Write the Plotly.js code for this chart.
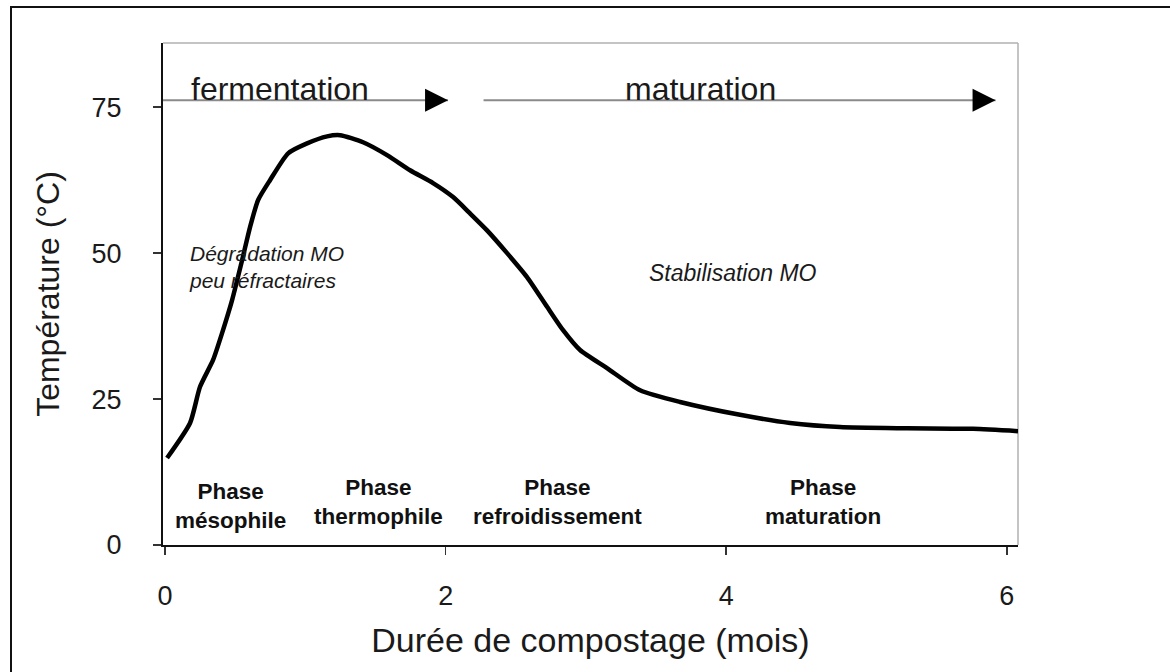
<!DOCTYPE html>
<html>
<head>
<meta charset="utf-8">
<script src="https://cdn.plot.ly/plotly-3.0.1.min.js"></script>
<style>
html,body{margin:0;padding:0;background:#fff;}
#wrap{position:relative;width:1170px;height:672px;overflow:hidden;}
#chart{position:absolute;left:0;top:0;width:1170px;height:672px;}
#frame{position:absolute;left:10px;top:6px;width:1200px;height:700px;border-left:2px solid #111;border-top:2px solid #111;pointer-events:none;}
</style>
</head>
<body>
<div id="wrap"><div id="chart"></div><div id="frame"></div></div>
<script>
// Temperature curve (months, °C)
var months = [0.014, 0.178, 0.249, 0.342, 0.406, 0.478, 0.549, 0.606, 0.663, 0.748, 0.877, 1.012, 1.155, 1.247, 1.411, 1.582, 1.746, 1.910, 2.053, 2.174, 2.295, 2.438, 2.580, 2.723, 2.837, 2.958, 3.150, 3.386, 3.671, 4.098, 4.455, 4.811, 5.289, 5.759, 6.08];
var temperature = [14.9, 20.9, 27.1, 31.7, 36.3, 42.0, 48.8, 54.5, 59.1, 62.5, 67.1, 68.8, 70.0, 70.2, 69.0, 66.8, 64.2, 62.0, 59.6, 56.8, 53.9, 50.0, 45.9, 40.8, 36.8, 33.4, 30.3, 26.5, 24.5, 22.3, 20.9, 20.2, 20.0, 19.9, 19.5];

// Axis ticks
var xTicks = [0, 2, 4, 6];
var yTicks = [0, 25, 50, 75];

// Top process arrows: label, start (months), end (months), label centre
var arrowLabels = ['fermentation', 'maturation'];
var arrowStart = [-0.015, 2.27];
var arrowEnd = [2.017, 5.92];
var arrowLabelX = [0.82, 3.82];
var arrowLevel = 76.2;

// Phase labels
var phaseLabels = ['Phase<br>mésophile', 'Phase<br>thermophile', 'Phase<br>refroidissement', 'Phase<br>maturation'];
var phaseX = [0.463, 1.518, 2.794, 4.69];
var phaseY = [6.7, 7.4, 7.4, 7.4];

// Process descriptions
var procLabels = ['Dégradation MO<br>peu réfractaires', 'Stabilisation MO'];
var procX = [0.157, 4.05];
var procY = [47.6, 46.6];
var procAnchor = ['left', 'center'];
var procSize = [21, 23];

var FONT = '"Liberation Sans", Arial, Helvetica, sans-serif';

var traces = [{
  x: months, y: temperature, type: 'scatter', mode: 'lines',
  line: {color: '#000', width: 4.5, shape: 'spline', smoothing: 0.6},
  hoverinfo: 'skip', showlegend: false
}];

var shapes = [
  // gray top and right box edges
  {type: 'line', xref: 'paper', yref: 'paper', x0: 0, x1: 1, y0: 1, y1: 1, line: {color: '#b0b0b0', width: 1.5}, layer: 'below'},
  {type: 'line', xref: 'paper', yref: 'paper', x0: 1, x1: 1, y0: 0, y1: 1, line: {color: '#b0b0b0', width: 1.5}, layer: 'below'}
];
var annotations = [];

for (var i = 0; i < arrowLabels.length; i++) {
  shapes.push({type: 'line', xref: 'x', yref: 'y', x0: arrowStart[i], x1: arrowEnd[i], y0: arrowLevel, y1: arrowLevel,
    line: {color: '#8a8a8a', width: 2}});
  annotations.push({x: arrowEnd[i], y: arrowLevel, xref: 'x', yref: 'y', text: '', showarrow: true,
    ax: -20, ay: 0, arrowhead: 2, arrowsize: 2.3, arrowwidth: 2, arrowcolor: '#000', standoff: 0});
  annotations.push({x: arrowLabelX[i], y: arrowLevel + 2.0, xref: 'x', yref: 'y', text: arrowLabels[i], showarrow: false,
    xanchor: 'center', yanchor: 'middle', font: {family: FONT, size: 32, color: '#1a1a1a'}});
}
for (var j = 0; j < phaseLabels.length; j++) {
  annotations.push({x: phaseX[j], y: phaseY[j], xref: 'x', yref: 'y', text: '<b>' + phaseLabels[j] + '</b>', showarrow: false,
    xanchor: 'center', yanchor: 'middle', align: 'center', font: {family: FONT, size: 22.5, color: '#111'}});
}
for (var k = 0; k < procLabels.length; k++) {
  annotations.push({x: procX[k], y: procY[k], xref: 'x', yref: 'y', text: '<i>' + procLabels[k] + '</i>', showarrow: false,
    xanchor: procAnchor[k], yanchor: 'middle', align: 'left', font: {family: FONT, size: procSize[k], color: '#1a1a1a'}});
}

var layout = {
  width: 1170, height: 672,
  margin: {l: 163, r: 152, t: 43, b: 127, pad: 0},
  paper_bgcolor: '#fff', plot_bgcolor: '#fff',
  showlegend: false,
  font: {family: FONT, color: '#1a1a1a'},
  xaxis: {
    range: [-0.015, 6.08], tickvals: xTicks, ticktext: xTicks.map(String),
    showgrid: false, zeroline: false, showline: true, linecolor: '#111', linewidth: 2,
    ticks: 'outside', ticklen: 8, tickwidth: 1.5, tickcolor: '#333', ticklabelstandoff: 18,
    tickfont: {family: FONT, size: 27, color: '#1a1a1a'},
    title: {text: 'Durée de compostage (mois)', font: {family: FONT, size: 34, color: '#1a1a1a'}, standoff: 18}
  },
  yaxis: {
    range: [0, 86], tickvals: yTicks, ticktext: yTicks.map(String),
    showgrid: false, zeroline: false, showline: true, linecolor: '#111', linewidth: 2,
    ticks: 'outside', ticklen: 8, tickwidth: 1.5, tickcolor: '#333', ticklabelstandoff: 26,
    tickfont: {family: FONT, size: 27, color: '#1a1a1a'},
    title: {text: 'Température (°C)', font: {family: FONT, size: 32, color: '#1a1a1a'}, standoff: 22}
  },
  shapes: shapes,
  annotations: annotations
};

Plotly.newPlot('chart', traces, layout, {staticPlot: true, displayModeBar: false});
</script>
</body>
</html>
